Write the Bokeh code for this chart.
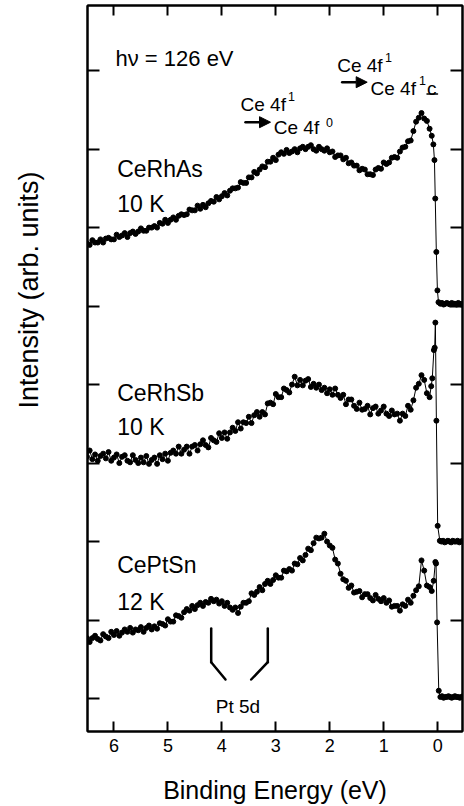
from bokeh.plotting import figure
from bokeh.models import Label, Arrow, NormalHead, LinearAxis, FixedTicker, Range1d, Title
from bokeh.embed import file_html
from bokeh.resources import INLINE

# ---------------- data ----------------
E_GRID = [
    6.50, 6.45, 6.40, 6.35, 6.30, 6.25, 6.20, 6.15, 6.10, 6.05,
    6.00, 5.95, 5.90, 5.85, 5.80, 5.75, 5.70, 5.65, 5.60, 5.55,
    5.50, 5.45, 5.40, 5.35, 5.30, 5.25, 5.20, 5.15, 5.10, 5.05,
    5.00, 4.95, 4.90, 4.85, 4.80, 4.75, 4.70, 4.65, 4.60, 4.55,
    4.50, 4.45, 4.40, 4.35, 4.30, 4.25, 4.20, 4.15, 4.10, 4.05,
    4.00, 3.95, 3.90, 3.85, 3.80, 3.75, 3.70, 3.65, 3.60, 3.55,
    3.50, 3.45, 3.40, 3.35, 3.30, 3.25, 3.20, 3.15, 3.10, 3.05,
    3.00, 2.95, 2.90, 2.85, 2.80, 2.75, 2.70, 2.65, 2.60, 2.55,
    2.50, 2.45, 2.40, 2.35, 2.30, 2.25, 2.20, 2.15, 2.10, 2.05,
    2.00, 1.95, 1.90, 1.85, 1.80, 1.75, 1.70, 1.65, 1.60, 1.55,
    1.50, 1.45, 1.40, 1.35, 1.30, 1.25, 1.20, 1.15, 1.10, 1.05,
    1.00, 0.95, 0.90, 0.85, 0.80, 0.75, 0.70, 0.65, 0.60, 0.55,
    0.50, 0.45, 0.40, 0.35, 0.30, 0.25, 0.20, 0.15,
]

CERHAS = [
    5.80, 5.78, 5.84, 5.81, 5.81, 5.85, 5.81, 5.86, 5.87, 5.85,
    5.85, 5.91, 5.88, 5.90, 5.93, 5.88, 5.93, 5.95, 5.92, 5.95,
    5.99, 5.96, 5.96, 6.00, 6.00, 6.02, 6.00, 6.06, 6.05, 6.10,
    6.06, 6.10, 6.13, 6.10, 6.15, 6.17, 6.16, 6.17, 6.23, 6.22,
    6.22, 6.28, 6.24, 6.29, 6.26, 6.31, 6.34, 6.33, 6.39, 6.36,
    6.40, 6.44, 6.41, 6.47, 6.50, 6.50, 6.51, 6.58, 6.57, 6.57,
    6.64, 6.64, 6.71, 6.69, 6.74, 6.78, 6.77, 6.84, 6.84, 6.89,
    6.86, 6.93, 6.96, 6.94, 6.99, 6.95, 6.97, 7.00, 6.96, 7.01,
    7.03, 7.00, 7.03, 7.05, 7.00, 6.98, 7.03, 7.00, 6.98, 7.01,
    6.96, 6.97, 6.90, 6.92, 6.92, 6.87, 6.89, 6.82, 6.83, 6.79,
    6.79, 6.73, 6.75, 6.74, 6.68, 6.68, 6.67, 6.74, 6.76, 6.75,
    6.83, 6.81, 6.83, 6.89, 6.90, 6.89, 6.97, 7.02, 7.03, 7.10,
    7.11, 7.23, 7.35, 7.40, 7.46, 7.39, 7.36, 7.26,
]
CERHAS_EDGE_E = [0.11, 0.08, 0.06, 0.045, 0.025, 0.005, -0.015,
                 -0.05, -0.08, -0.11, -0.14, -0.17, -0.20, -0.23, -0.26,
                 -0.29, -0.32, -0.35, -0.38, -0.41, -0.44, -0.47, -0.50]
CERHAS_EDGE = [7.17, 7.06, 6.86, 6.37, 5.69, 5.20, 5.05,
               5.03, 5.04, 5.02, 5.03, 5.04, 5.03, 5.02, 5.04,
               5.03, 5.03, 5.02, 5.04, 5.03, 5.02, 5.03, 5.04]

CERHSB = [
    3.08, 3.16, 3.05, 3.11, 3.03, 3.09, 3.12, 3.06, 3.14, 3.03,
    3.07, 3.11, 3.00, 3.08, 3.10, 3.03, 3.01, 3.10, 3.04, 3.00,
    3.07, 3.01, 3.09, 2.99, 3.04, 3.07, 2.99, 3.10, 3.05, 3.12,
    3.03, 3.13, 3.16, 3.12, 3.21, 3.12, 3.17, 3.21, 3.12, 3.21,
    3.23, 3.16, 3.24, 3.29, 3.23, 3.20, 3.32, 3.29, 3.27, 3.38,
    3.32, 3.39, 3.31, 3.39, 3.45, 3.41, 3.52, 3.44, 3.52, 3.51,
    3.59, 3.51, 3.61, 3.65, 3.59, 3.65, 3.62, 3.76, 3.77, 3.75,
    3.88, 3.84, 3.84, 3.95, 3.93, 3.90, 4.00, 4.10, 3.99, 4.06,
    3.99, 4.05, 4.07, 3.97, 4.01, 3.96, 4.00, 3.93, 3.96, 3.89,
    3.94, 3.87, 3.95, 3.87, 3.83, 3.87, 3.75, 3.81, 3.81, 3.73,
    3.69, 3.77, 3.68, 3.69, 3.73, 3.62, 3.70, 3.72, 3.63, 3.67,
    3.72, 3.63, 3.60, 3.67, 3.62, 3.63, 3.54, 3.63, 3.60, 3.73,
    3.68, 3.80, 3.96, 4.01, 4.12, 4.06, 3.89, 3.84,
]
CERHSB_EDGE_E = [0.12, 0.10, 0.07, 0.055, 0.043, 0.024, 0.0,
                 -0.04, -0.07, -0.10, -0.13, -0.16, -0.19, -0.22, -0.25,
                 -0.28, -0.31, -0.34, -0.37, -0.40, -0.43, -0.46, -0.49]
CERHSB_EDGE = [3.98, 4.08, 4.44, 4.47, 4.79, 3.54, 2.20,
               2.01, 2.00, 2.01, 1.99, 2.00, 2.01, 2.00, 1.99,
               2.01, 2.00, 2.00, 2.01, 1.99, 2.00, 2.01, 2.00]

CEPTSN = [
    0.77, 0.72, 0.77, 0.80, 0.76, 0.74, 0.82, 0.79, 0.77, 0.85,
    0.81, 0.86, 0.80, 0.84, 0.88, 0.85, 0.90, 0.84, 0.88, 0.87,
    0.91, 0.85, 0.90, 0.93, 0.88, 0.92, 0.89, 0.96, 0.95, 0.93,
    1.01, 0.98, 0.98, 1.06, 1.05, 1.03, 1.10, 1.14, 1.12, 1.18,
    1.14, 1.19, 1.22, 1.18, 1.23, 1.22, 1.27, 1.24, 1.26, 1.21,
    1.24, 1.18, 1.22, 1.16, 1.13, 1.16, 1.09, 1.17, 1.22, 1.22,
    1.24, 1.34, 1.32, 1.36, 1.42, 1.38, 1.46, 1.50, 1.46, 1.51,
    1.57, 1.54, 1.54, 1.63, 1.62, 1.65, 1.63, 1.72, 1.71, 1.79,
    1.76, 1.83, 1.91, 1.89, 1.98, 2.05, 2.04, 2.05, 2.10, 2.00,
    1.95, 1.92, 1.77, 1.72, 1.59, 1.52, 1.50, 1.41, 1.44, 1.35,
    1.36, 1.37, 1.29, 1.33, 1.33, 1.28, 1.25, 1.32, 1.27, 1.24,
    1.28, 1.22, 1.25, 1.17, 1.18, 1.18, 1.12, 1.20, 1.18, 1.26,
    1.22, 1.31, 1.38, 1.43, 1.76, 1.63, 1.44, 1.42,
]
CEPTSN_EDGE_E = [0.11, 0.074, 0.043, 0.03, 0.011, -0.02,
                 -0.05, -0.08, -0.11, -0.14, -0.17, -0.20, -0.23, -0.26,
                 -0.29, -0.32, -0.35, -0.38, -0.41, -0.44, -0.47, -0.50]
CEPTSN_EDGE = [1.37, 1.50, 1.74, 1.72, 0.97, 0.10,
               0.02, 0.03, 0.01, 0.02, 0.02, 0.03, 0.02, 0.01,
               0.02, 0.03, 0.02, 0.02, 0.01, 0.02, 0.03, 0.02]

X_TICKS = [0, 1, 2, 3, 4, 5, 6]
Y_TICKS = [0, 1, 2, 3, 4, 5, 6, 7, 8]

SPECTRA = [
    ("CeRhAs", E_GRID + CERHAS_EDGE_E, CERHAS + CERHAS_EDGE),
    ("CeRhSb", E_GRID + CERHSB_EDGE_E, CERHSB + CERHSB_EDGE),
    ("CePtSn", E_GRID + CEPTSN_EDGE_E, CEPTSN + CEPTSN_EDGE),
]

# ---------------- layout ----------------
W, H = 464, 806
FL, FR, FT, FB = 87, 462, 5, 731
X0, X1 = 6.49, -0.46
Y0, Y1 = -0.42, 8.83
FONT = "Liberation Sans"


def dx(px):
    return X0 + (px - FL) * (X1 - X0) / (FR - FL)


def dy(py):
    return Y1 - (py - FT) * (Y1 - Y0) / (FB - FT)


p = figure(width=W, height=H, x_range=Range1d(X0, X1), y_range=Range1d(Y0, Y1),
           output_backend="svg", toolbar_location=None,
           min_border_left=FL, min_border_right=W - FR,
           min_border_top=FT, min_border_bottom=H - FB)
p.grid.visible = False
p.background_fill_color = "white"
p.border_fill_color = "white"
p.outline_line_color = "black"
p.outline_line_width = 2

p.add_layout(LinearAxis(), "above")
p.add_layout(LinearAxis(), "right")

for ax in p.xaxis:
    ax.ticker = FixedTicker(ticks=X_TICKS)
    ax.major_tick_in = 10
    ax.major_tick_out = 0
for ax in p.yaxis:
    ax.ticker = FixedTicker(ticks=Y_TICKS)
    ax.major_tick_in = 12
    ax.major_tick_out = 0
for ax in p.xaxis + p.yaxis:
    ax.minor_tick_line_color = None
    ax.axis_line_width = 2
    ax.axis_line_color = "black"
    ax.major_tick_line_width = 2
    ax.major_tick_line_color = "black"

bottom = p.below[0]
bottom.major_label_text_font = FONT
bottom.major_label_text_font_size = "18px"
bottom.major_label_text_color = "black"
bottom.major_label_standoff = 7
bottom.axis_label = "Binding Energy (eV)"
bottom.axis_label_text_font = FONT
bottom.axis_label_text_font_size = "25px"
bottom.axis_label_text_font_style = "normal"
bottom.axis_label_text_color = "black"
bottom.axis_label_standoff = 21

for ax in [p.above[0], p.right[0], p.left[0]]:
    ax.major_label_text_font_size = "0px"
    ax.major_label_text_color = None
    ax.major_label_standoff = 0

# invisible spacer axis that keeps the y title away from the frame
spacer = LinearAxis(ticker=FixedTicker(ticks=Y_TICKS), major_tick_in=0,
                    major_tick_out=43, major_tick_line_color=None,
                    minor_tick_line_color=None, axis_line_color=None,
                    major_label_text_font_size="0px", major_label_text_color=None,
                    major_label_standoff=0)
p.add_layout(spacer, "left")
p.add_layout(Title(text="Intensity (arb. units)", align="right", offset=166,
                   vertical_align="middle", standoff=0, text_font=FONT,
                   text_font_size="27px", text_font_style="normal",
                   text_color="black"), "left")

for name, ex, ey in SPECTRA:
    p.line(ex, ey, line_color="black", line_width=1)
    p.scatter(ex, ey, size=5, fill_color="black", line_color="black")


def lab(px, py, text, size, align="left", baseline="alphabetic"):
    p.add_layout(Label(x=dx(px), y=dy(py), text=text, text_font=FONT,
                       text_font_size=f"{size}px", text_color="black",
                       text_align=align, text_baseline=baseline))


def seg(px0, py0, px1, py1, width, head=None):
    p.add_layout(Arrow(x_start=dx(px0), y_start=dy(py0), x_end=dx(px1), y_end=dy(py1),
                       line_width=width, line_color="black", line_cap="round",
                       end=head))


lab(115, 58, "h\u03bd = 126 eV", 22)
lab(116.7, 168.3, "CeRhAs", 23)
lab(116.7, 203.3, "10 K", 23)
lab(116.7, 392.7, "CeRhSb", 23)
lab(116.7, 426.7, "10 K", 23)
lab(116.7, 564, "CePtSn", 23)
lab(116.7, 601.7, "12 K", 23)

# Ce 4f1 -> Ce 4f1 c (upper right)
lab(336.7, 65, "Ce 4f", 19)
lab(384.5, 57, "1", 12.5)
seg(341.7, 81.7, 366.7, 81.7, 2.5,
    NormalHead(size=11, fill_color="black", line_color="black", line_width=1))
lab(370, 88.3, "Ce 4f", 19)
lab(418.5, 80.3, "1", 12.5)
lab(426.5, 88.3, "c", 19)
seg(426.5, 93.5, 437, 93.5, 1.5)

# Ce 4f1 -> Ce 4f0
lab(240, 104.3, "Ce 4f", 19)
lab(287.5, 95.5, "1", 12.5)
seg(245, 121.7, 270, 121.7, 2.5,
    NormalHead(size=11, fill_color="black", line_color="black", line_width=1))
lab(273.3, 127.3, "Ce 4f", 19)
lab(325.5, 121.7, "0", 12.5)

# Pt 5d bracket
seg(210.7, 628, 210.7, 661.7, 2.5)
seg(210.7, 661.7, 225, 679, 2.5)
seg(267.3, 628, 267.3, 661.7, 2.5)
seg(267.3, 661.7, 250.7, 679, 2.5)
lab(237.5, 706, "Pt 5d", 19, align="center")

open("out.html", "w").write(file_html(p, INLINE))
